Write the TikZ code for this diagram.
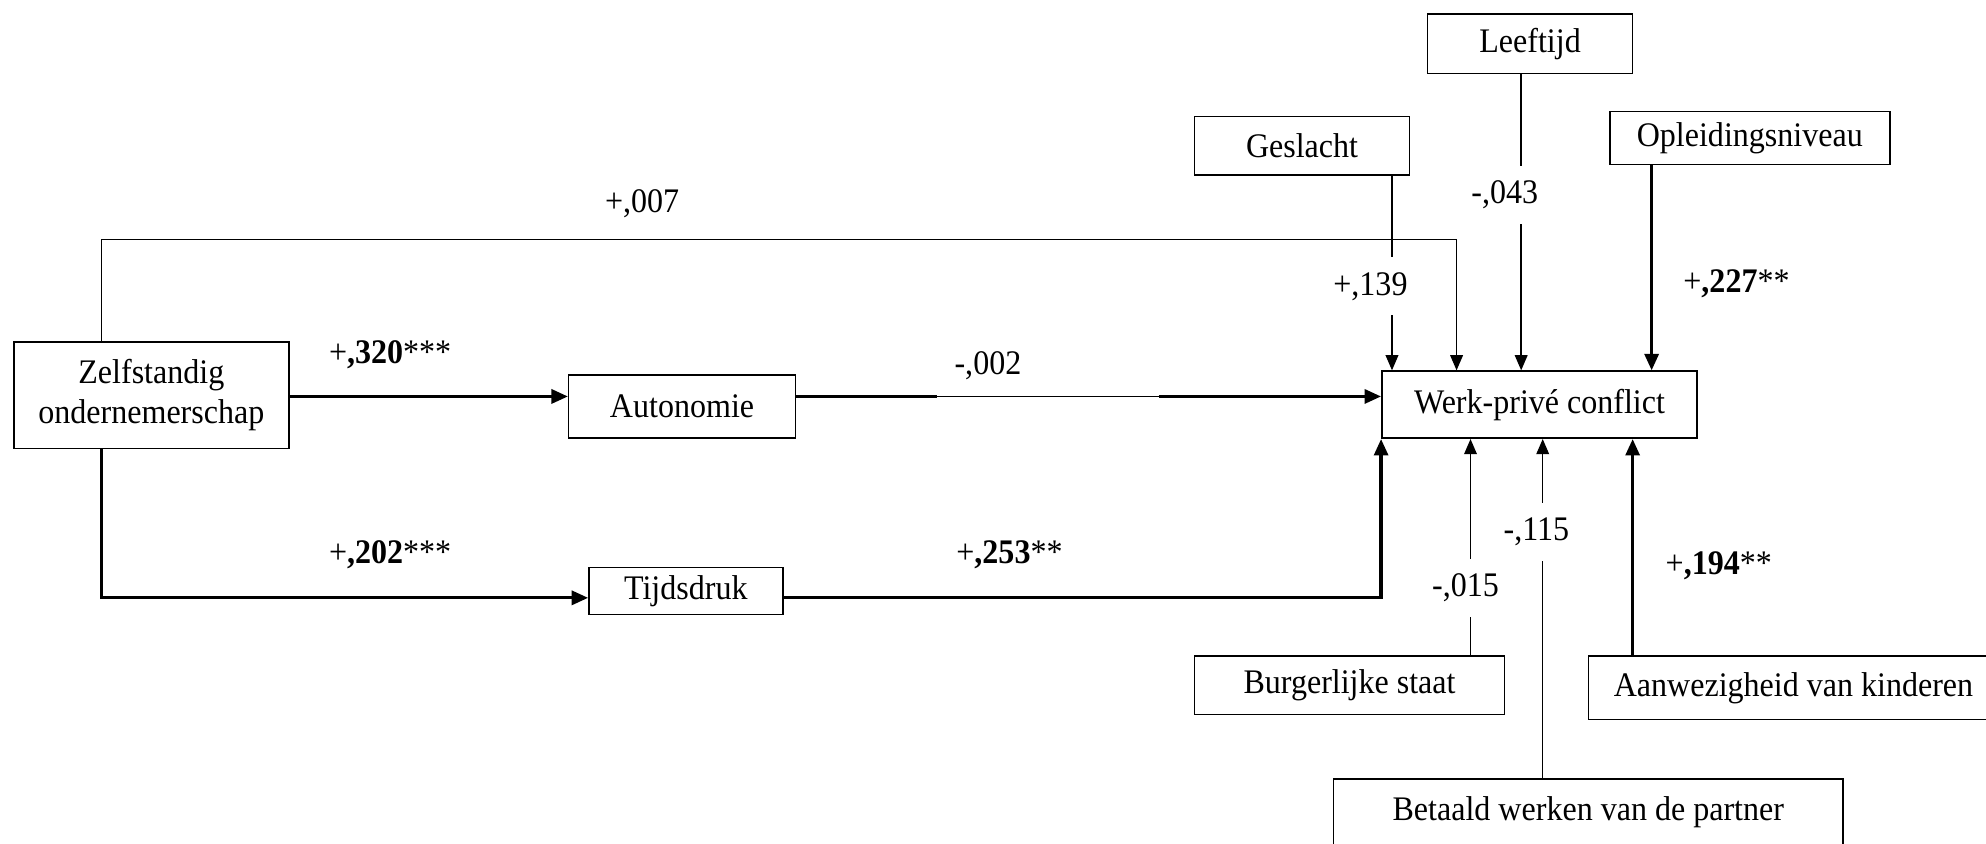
\documentclass[tikz,border=0pt]{standalone}
\usepackage{fontspec}
\setmainfont{Liberation Serif}[FakeStretch=0.93]
\usetikzlibrary{arrows.meta, positioning, calc}

\begin{document}
\begin{tikzpicture}[
		x=0.5pt, y=-0.5pt,
		var_box/.style={draw, line width=0.6pt, inner sep=0pt, align=center, font=\fontsize{13.6}{16}\selectfont},
		coef/.style={font=\fontsize{13.6}{16}\selectfont},
		gap_coef/.style={coef, fill=white, minimum height=23pt, inner sep=2pt},
		arrow/.style={-{Triangle[length=6pt, width=5pt]}, line width=0.6pt},
		sig_arrow/.style={-{Triangle[length=6.5pt, width=5.5pt]}, line width=1.3pt}
		]
		
		\useasboundingbox (0,0) rectangle (1568,666);
		
		% Variables
		\node[var_box, minimum width=108.5pt, minimum height=42pt] (zelf) at (119.5,312) {Zelfstandig\\ondernemerschap};
		\node[var_box, minimum width=89.5pt, minimum height=25pt] (auton) at (538.5,321) {Autonomie};
		\node[var_box, minimum width=76.5pt, minimum height=18.5pt] (tijd) at (541.5,466.5) {Tijdsdruk};
		\node[var_box, minimum width=124.5pt, minimum height=26.5pt] (werk) at (1215.5,319.5) {Werk-privé conflict};
		
		% Controls
		\node[var_box, minimum width=85pt, minimum height=23pt] (geslacht) at (1028,115) {Geslacht};
		\node[var_box, minimum width=81pt, minimum height=23.5pt] (leeftijd) at (1208,34.5) {Leeftijd};
		\node[var_box, minimum width=110.5pt, minimum height=21pt] (opleiding) at (1381.5,109) {Opleidingsniveau};
		\node[var_box, minimum width=122.5pt, minimum height=23pt] (burger) at (1065.5,541) {Burgerlijke staat};
		\node[var_box, minimum width=162pt, minimum height=25pt] (kinderen) at (1416,543) {Aanwezigheid van kinderen};
		\node[var_box, minimum width=201pt, minimum height=26pt] (partner) at (1254,641) {Betaald werken van de partner};
		
		% Bends and columns
		\coordinate (ztop) at (80,189);
		\coordinate (wtop) at (1150,189);
		\coordinate (zbot) at (80,472);
		\coordinate (arow) at (0,313);
		\coordinate (a1) at (740,313);
		\coordinate (a2) at (915,313);
		
		% Paths
		\draw[arrow] (zelf.north -| ztop) -- (ztop) -- (wtop) -- (werk.north -| wtop);
		\draw[sig_arrow] (zelf.east |- arow) -- (auton.west |- arow);
		\draw[line width=1.3pt] (auton.east |- arow) -- (a1);
		\draw[line width=0.6pt] (a1) -- (a2);
		\draw[sig_arrow] (a2) -- (werk.west |- arow);
		\draw[sig_arrow] (zelf.south -| zbot) -- (zbot) -- (tijd.west |- zbot);
		\draw[sig_arrow] (tijd.east |- zbot) -| (werk.south west);
		
		\draw[arrow] (geslacht.south -| 1099,0) -- (werk.north -| 1099,0);
		\draw[arrow] (leeftijd.south -| 1201,0) -- (werk.north -| 1201,0);
		\draw[sig_arrow] (opleiding.south -| 1304,0) -- (werk.north -| 1304,0);
		\draw[arrow] (burger.north -| 1161,0) -- (werk.south -| 1161,0);
		\draw[arrow] (partner.north -| 1218,0) -- (werk.south -| 1218,0);
		\draw[sig_arrow] (kinderen.north -| 1289,0) -- (werk.south -| 1289,0);
		
		% Coefficients
		\node[coef] (c_direct) at (507,161) {+,007};
		\node[coef] (c_auton) at (308,280) {+\textbf{,320}***};
		\node[coef] (c_aw) at (780,289) {-,002};
		\node[coef] (c_tijd) at (308,438) {+\textbf{,202}***};
		\node[coef] (c_tw) at (797,438) {+\textbf{,253}**};
		\node[gap_coef] (c_gesl) at (1082,226) {+,139};
		\node[gap_coef] (c_leef) at (1188,154) {-,043};
		\node[coef] (c_opl) at (1371,224) {+\textbf{,227}**};
		\node[gap_coef] (c_burg) at (1157,464) {-,015};
		\node[gap_coef] (c_part) at (1213,420) {-,115};
		\node[coef] (c_kind) at (1357,447) {+\textbf{,194}**};
		
	\end{tikzpicture}
\end{document}
